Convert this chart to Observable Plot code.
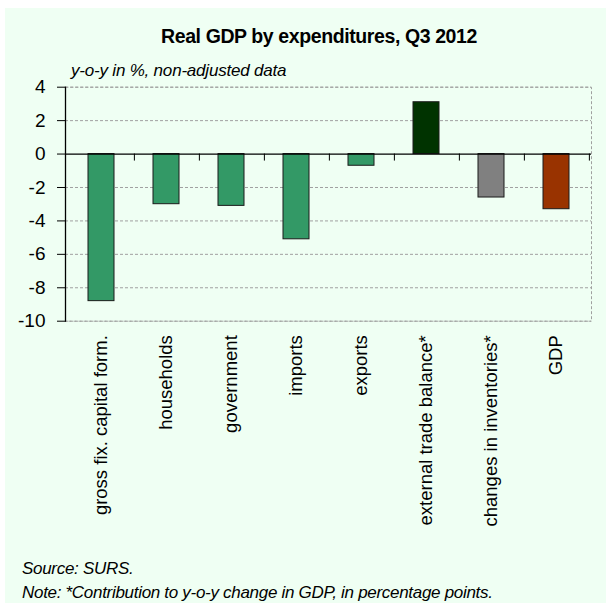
<!DOCTYPE html>
<html><head><meta charset="utf-8">
<script src="https://cdn.jsdelivr.net/npm/d3@7"></script>
<script src="https://cdn.jsdelivr.net/npm/@observablehq/plot@0.6"></script>
<style>
body{margin:0;background:#fff;}
#bg{position:absolute;left:5px;top:8px;width:601px;height:595px;background:#effff3;}
.t{position:absolute;font-family:"Liberation Sans",Arial,sans-serif;color:#000;white-space:nowrap;line-height:1;}
#chart{position:absolute;left:0;top:60px;}
</style></head><body>
<div id="bg"></div>
<div class="t" style="left:0;width:638px;text-align:center;top:27px;font-weight:bold;font-size:19.5px;letter-spacing:-0.4px;">Real GDP by expenditures, Q3 2012</div>
<div class="t" style="left:71px;top:62px;font-style:italic;font-size:17px;letter-spacing:-0.2px;">y-o-y in %, non-adjusted data</div>
<div id="chart"></div>
<div class="t" style="left:22px;top:560px;font-style:italic;font-size:17px;letter-spacing:-0.3px;">Source: SURS.</div>
<div class="t" style="left:22px;top:584px;font-style:italic;font-size:17px;letter-spacing:-0.3px;">Note: *Contribution to y-o-y change in GDP, in percentage points.</div>
<script>
const categories = ["gross fix. capital form.", "households", "government", "imports", "exports", "external trade balance*", "changes in inventories*", "GDP"];
const values = [-8.8, -3.0, -3.1, -5.1, -0.7, 3.1, -2.6, -3.3];
const yTicks = [4, 2, 0, -2, -4, -6, -8, -10];

const data = categories.map((c, i) => ({category: c, value: values[i]}));
const barColors = ["#339966", "#339966", "#339966", "#339966", "#339966", "#003300", "#808080", "#993300"];
const font = '"Liberation Sans",Arial,sans-serif';

const W = 606, H = 480, mL = 65, mR = 15, mT = 26.7, plotH = 234;
const step = (W - mL - mR) / categories.length;

const chart = Plot.plot({
  width: W, height: H,
  marginLeft: mL, marginRight: mR, marginTop: mT, marginBottom: H - mT - plotH,
  style: {background: "transparent", fontFamily: font, color: "#000", overflow: "visible"},
  x: {domain: categories, paddingInner: 0.6, paddingOuter: 0.3, label: null},
  y: {domain: [-10, 4], label: null},
  color: {domain: categories, range: barColors},
  marks: [
    Plot.ruleY(yTicks.filter(d => d !== 0), {stroke: "#a0a0a0", strokeDasharray: "3,2", strokeWidth: 1}),
    Plot.frame({stroke: "#a0a0a0", strokeDasharray: "3,2"}),
    Plot.barY(data, {x: "category", y: "value", fill: "category", stroke: "#1a1a1a", strokeWidth: 1}),
    Plot.ruleY([0], {stroke: "#000", strokeWidth: 1.3}),
    Plot.ruleX(categories, {x: d => d, y1: 0, y2: -0.42, dx: step / 2, stroke: "#000"}),
    Plot.frame({anchor: "left", stroke: "#000", strokeWidth: 1.3}),
    Plot.axisY({ticks: yTicks, tickFormat: d => String(d), tickSize: 8, tickPadding: 12, fontSize: 19, label: null}),
    Plot.axisX({tickRotate: -90, tickSize: 0, tickPadding: 14, fontSize: 18.5, label: null})
  ]
});
document.getElementById("chart").appendChild(chart);
</script>
</body></html>
